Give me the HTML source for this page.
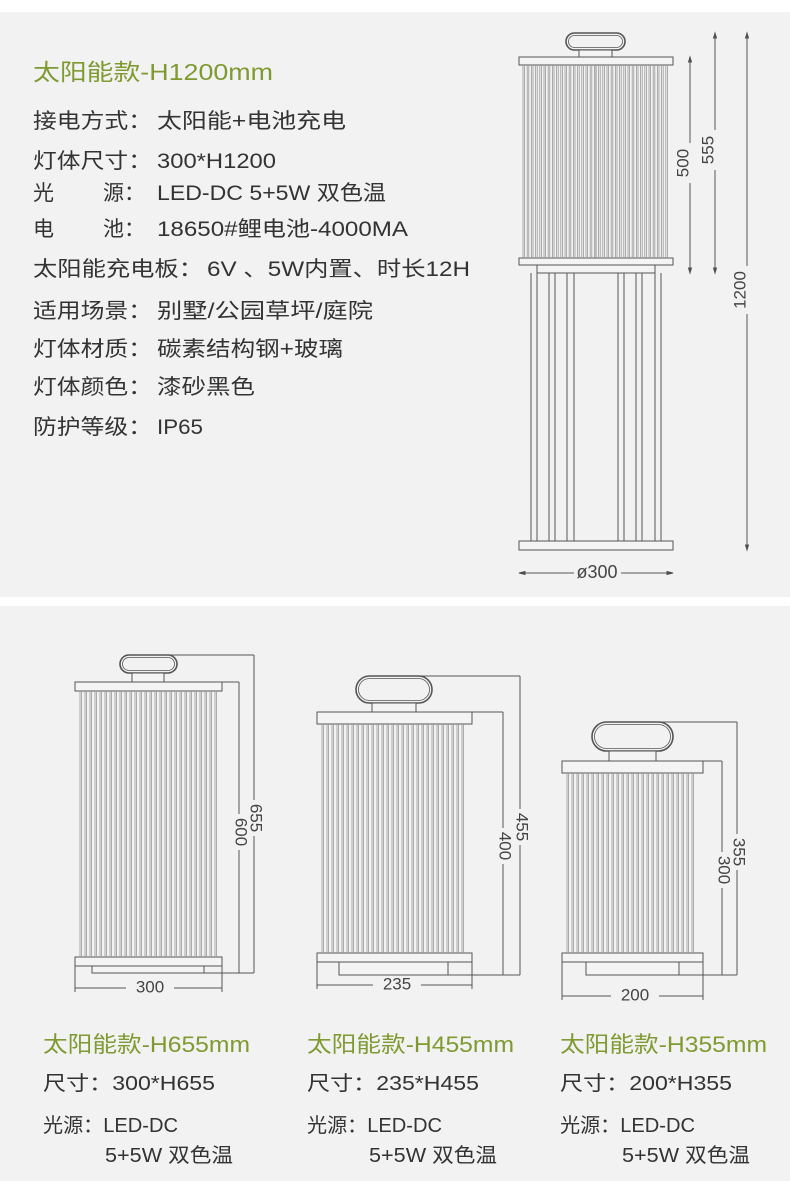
<!DOCTYPE html>
<html><head><meta charset="utf-8"><style>
html,body{margin:0;padding:0;background:#fff;}
svg{display:block}
text{font-family:"Liberation Sans","Noto Sans CJK SC",sans-serif;}
</style></head><body>
<svg id="s" width="790" height="1181" viewBox="0 0 790 1181" xmlns="http://www.w3.org/2000/svg">
<rect x="0" y="12" width="790" height="585" fill="#f2f2f2"/>
<rect x="0" y="606" width="790" height="575" fill="#f2f2f2"/>
<g fill="#7f9a30" font-size="23">
<text x="33" y="80" textLength="240" lengthAdjust="spacingAndGlyphs">太阳能款-H1200mm</text>
</g>
<g fill="#333" font-size="21">
<text x="33" y="128" textLength="119" lengthAdjust="spacingAndGlyphs">接电方式：</text><text x="157" y="128" textLength="189" lengthAdjust="spacingAndGlyphs">太阳能+电池充电</text>
<text x="33" y="168" textLength="119" lengthAdjust="spacingAndGlyphs">灯体尺寸：</text><text x="157" y="168" textLength="119" lengthAdjust="spacingAndGlyphs">300*H1200</text>
<text x="33" y="200">光</text><text x="103" y="200">源：</text><text x="157" y="200" textLength="229" lengthAdjust="spacingAndGlyphs">LED-DC 5+5W 双色温</text>
<text x="33" y="236">电</text><text x="103" y="236">池：</text><text x="157" y="236" textLength="251" lengthAdjust="spacingAndGlyphs">18650#鲤电池-4000MA</text>
<text x="33" y="276" textLength="170" lengthAdjust="spacingAndGlyphs">太阳能充电板：</text><text x="207" y="276" textLength="263" lengthAdjust="spacingAndGlyphs">6V 、5W内置、时长12H</text>
<text x="33" y="318" textLength="119" lengthAdjust="spacingAndGlyphs">适用场景：</text><text x="157" y="318" textLength="216" lengthAdjust="spacingAndGlyphs">别墅/公园草坪/庭院</text>
<text x="33" y="356" textLength="119" lengthAdjust="spacingAndGlyphs">灯体材质：</text><text x="157" y="356" textLength="186" lengthAdjust="spacingAndGlyphs">碳素结构钢+玻璃</text>
<text x="33" y="394" textLength="119" lengthAdjust="spacingAndGlyphs">灯体颜色：</text><text x="157" y="394" textLength="98" lengthAdjust="spacingAndGlyphs">漆砂黑色</text>
<text x="33" y="434" textLength="119" lengthAdjust="spacingAndGlyphs">防护等级：</text><text x="157" y="434" textLength="46" lengthAdjust="spacingAndGlyphs">IP65</text>
</g>
<g id="draw" fill="none" stroke="#555" stroke-width="1"></g>
<g id="ribs" stroke="#999" stroke-width="0.8"></g>
<g fill="#444" font-size="17" id="dimtext"></g>
<g id="bt"></g>
</svg>
<script>
const NS="http://www.w3.org/2000/svg";
const D=document.getElementById('draw'),R=document.getElementById('ribs'),T=document.getElementById('dimtext'),B=document.getElementById('bt');
function el(p,tag,a,txt){const e=document.createElementNS(NS,tag);for(const k in a)e.setAttribute(k,a[k]);if(txt)e.textContent=txt;p.appendChild(e);return e;}
function rect(x,y,w,h,p){el(p||D,'rect',{x:x,y:y,width:w,height:h,fill:'#f4f4f4'});}
function line(x1,y1,x2,y2,p){el(p||D,'line',{x1:x1,y1:y1,x2:x2,y2:y2});}
function handle(x1,y1,x2,y2){const h=y2-y1;el(D,'rect',{x:x1,y:y1,width:x2-x1,height:h,rx:h/2,fill:'none','stroke-width':1.6});el(D,'rect',{x:x1+2.5,y:y1+2.5,width:x2-x1-5,height:h-5,rx:(h-5)/2,fill:'none','stroke-width':0.8});}
function ribs(x1,x2,y1,y2,step){for(let x=x1;x<=x2;x+=step){line(x,y1,x,y2,R);line(x+1.6,y1,x+1.6,y2,R);}}
function vtext(x,y,t,r){el(T,'text',{x:0,y:0,transform:`translate(${x},${y}) rotate(${r||90})`,'text-anchor':'middle','dominant-baseline':'middle'},t);}
function htext(x,y,t){el(T,'text',{x:x,y:y,'text-anchor':'middle','dominant-baseline':'middle'},t);}
function vdim(x,y1,y2,ty,tw){line(x,y1,x,ty-tw);line(x,ty+tw,x,y2);}
function arr(x,y,d){el(D,'path',{d:`M${x-1.5},${y+d*5} L${x},${y} L${x+1.5},${y+d*5}Z`,fill:'#444'});}
// top lamp
handle(566,33,625,50);
rect(579,50,33,7);
rect(519,57,154,8);
R.setAttribute('stroke','#777');
ribs(523,668,65,258,4.2);
line(596,65,596,258);
rect(519,258,154,7);
rect(537,265,118,8);
[531,537,549,555,567,574,618,624,636,642,655,661].forEach(x=>line(x,273,x,541));
rect(519,541,154,9);
vdim(690,57,273,163,20);vdim(715,33,273,150,20);vdim(747,33,550,290,24);
[[690,57,273],[715,33,273],[747,33,550]].forEach(([x,a,b])=>{arr(x,a,1);arr(x,b,-1);});
vtext(684,163,'500',-90);vtext(709,150,'555',-90);vtext(741,290,'1200',-90);
line(519,573,574,573);line(621,573,673,573);arr2();
function arr2(){el(D,'path',{d:'M519,573 L525,571.5 L525,574.5Z',fill:'#444'});el(D,'path',{d:'M673,573 L667,571.5 L667,574.5Z',fill:'#444'});}
el(T,'text',{x:597,y:573,'text-anchor':'middle','dominant-baseline':'middle','font-size':18},'ø300');
// bottom lamps
function lamp(o){
 handle(o.hx1,o.hy1,o.hx2,o.hy2);
 rect(o.nx1,o.hy2,o.nx2-o.nx1,o.cy1-o.hy2);
 rect(o.cx1,o.cy1,o.cx2-o.cx1,o.cy2-o.cy1);
 ribs(o.rx1,o.rx2,o.cy2,o.by1,o.step);
 rect(o.cx1,o.by1,o.cx2-o.cx1,9);
 rect(o.ix1,o.by1+9,o.ix2-o.ix1,o.iy2-o.by1-9);
 line((o.hx1+o.hx2)/2,o.hy1,o.d1x,o.hy1);
 line(o.cx2-20,o.cy1,o.d2x,o.cy1);
 line(o.ix2,o.iy2,o.d1x,o.iy2);
 vdim(o.d1x,o.hy1,o.iy2,o.t1y,18);vdim(o.d2x,o.cy1,o.iy2,o.t2y,18);
 vtext(o.d1x+1,o.t1y,o.l1);vtext(o.d2x+1,o.t2y,o.l2);
 line(o.cx1,o.by1+9,o.cx1,o.wy+4);line(o.cx2,o.by1+9,o.cx2,o.wy+4);
 line(o.cx1,o.wy,o.wc-24,o.wy);line(o.wc+24,o.wy,o.cx2,o.wy);
 htext(o.wc,o.wy,o.w);
}
R.setAttribute('stroke','#999');
lamp({hx1:120,hy1:655,hx2:177,hy2:673,nx1:132,nx2:164,cx1:75,cx2:222,cy1:682,cy2:691,rx1:80,rx2:215,step:5,by1:957,ix1:92,ix2:204,iy2:973,d1x:254,d2x:239,t1y:818,t2y:832,l1:'655',l2:'600',wy:988,wc:150,w:'300'});
lamp({hx1:356,hy1:676,hx2:432,hy2:703,nx1:372,nx2:416,cx1:317,cx2:472,cy1:712,cy2:724,rx1:322,rx2:464,step:5,by1:953,ix1:339,ix2:448,iy2:975,d1x:520,d2x:503,t1y:827,t2y:846,l1:'455',l2:'400',wy:985,wc:397,w:'235'});
lamp({hx1:592,hy1:722,hx2:673,hy2:751,nx1:609,nx2:656,cx1:562,cx2:703,cy1:761,cy2:773,rx1:567,rx2:696,step:5,by1:953,ix1:586,ix2:679,iy2:975,d1x:737,d2x:722,t1y:852,t2y:870,l1:'355',l2:'300',wy:996,wc:635,w:'200'});
// bottom texts
[[43,'655','300*H655'],[307,'455','235*H455'],[560,'355','200*H355']].forEach(([x,h,s])=>{
 el(B,'text',{x:x,y:1052,fill:'#7f9a30','font-size':22,textLength:207,lengthAdjust:'spacingAndGlyphs'},'太阳能款-H'+h+'mm');
 el(B,'text',{x:x,y:1090,fill:'#333','font-size':20,textLength:172,lengthAdjust:'spacingAndGlyphs'},'尺寸：'+s);
 el(B,'text',{x:x,y:1132,fill:'#333','font-size':20,textLength:135,lengthAdjust:'spacingAndGlyphs'},'光源：LED-DC');
 el(B,'text',{x:x+62,y:1162,fill:'#333','font-size':20,textLength:128,lengthAdjust:'spacingAndGlyphs'},'5+5W 双色温');
});
</script>
</body></html>
